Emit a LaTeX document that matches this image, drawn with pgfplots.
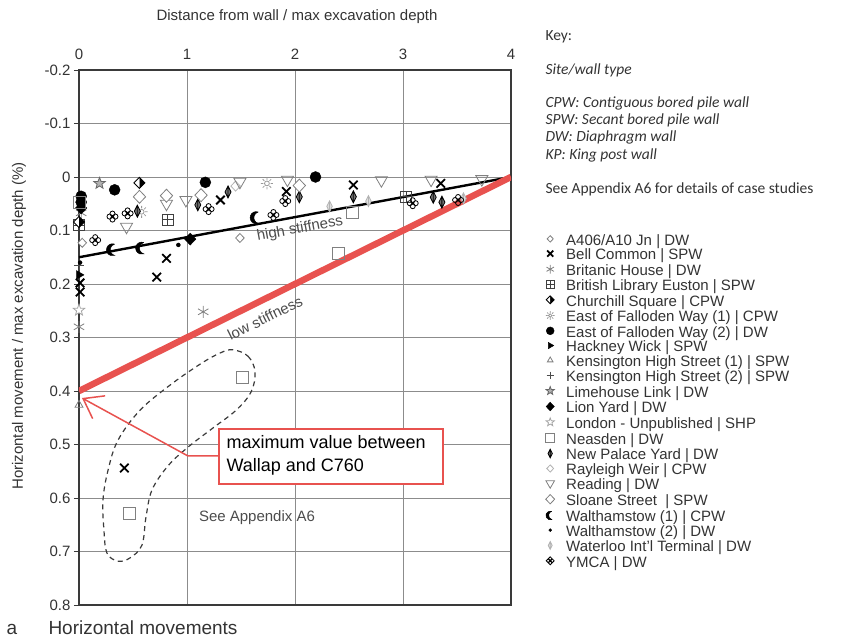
\documentclass[border=0pt]{standalone}
\usepackage{fontspec}
\setmainfont{Liberation Sans}
\newfontfamily\keyfont{Carlito}
\usepackage{pgfplots}
\pgfplotsset{compat=1.18}
\usetikzlibrary{arrows.meta}
\definecolor{txt}{HTML}{333333}
\definecolor{redl}{HTML}{E8524F}
\definecolor{gridc}{HTML}{8C8C8C}
\definecolor{axc}{HTML}{3A3A3A}
\newcommand\fs[2]{\fontsize{#1bp}{#2bp}\selectfont}

\pgfdeclareplotmark{sqgrid}{%
  \pgfpathrectangle{\pgfqpoint{-\pgfplotmarksize}{-\pgfplotmarksize}}{\pgfqpoint{2\pgfplotmarksize}{2\pgfplotmarksize}}%
  \pgfpathmoveto{\pgfqpoint{-\pgfplotmarksize}{0pt}}\pgfpathlineto{\pgfqpoint{\pgfplotmarksize}{0pt}}%
  \pgfpathmoveto{\pgfqpoint{0pt}{-\pgfplotmarksize}}\pgfpathlineto{\pgfqpoint{0pt}{\pgfplotmarksize}}%
  \pgfusepathqstroke}
\pgfdeclareplotmark{sun}{%
  \pgfpathcircle{\pgfpointorigin}{0.4\pgfplotmarksize}%
  \pgfpathmoveto{\pgfpointpolar{0}{0.6\pgfplotmarksize}}\pgfpathlineto{\pgfpointpolar{0}{\pgfplotmarksize}}%
  \pgfpathmoveto{\pgfpointpolar{45}{0.6\pgfplotmarksize}}\pgfpathlineto{\pgfpointpolar{45}{\pgfplotmarksize}}%
  \pgfpathmoveto{\pgfpointpolar{90}{0.6\pgfplotmarksize}}\pgfpathlineto{\pgfpointpolar{90}{\pgfplotmarksize}}%
  \pgfpathmoveto{\pgfpointpolar{135}{0.6\pgfplotmarksize}}\pgfpathlineto{\pgfpointpolar{135}{\pgfplotmarksize}}%
  \pgfpathmoveto{\pgfpointpolar{180}{0.6\pgfplotmarksize}}\pgfpathlineto{\pgfpointpolar{180}{\pgfplotmarksize}}%
  \pgfpathmoveto{\pgfpointpolar{225}{0.6\pgfplotmarksize}}\pgfpathlineto{\pgfpointpolar{225}{\pgfplotmarksize}}%
  \pgfpathmoveto{\pgfpointpolar{270}{0.6\pgfplotmarksize}}\pgfpathlineto{\pgfpointpolar{270}{\pgfplotmarksize}}%
  \pgfpathmoveto{\pgfpointpolar{315}{0.6\pgfplotmarksize}}\pgfpathlineto{\pgfpointpolar{315}{\pgfplotmarksize}}%
  \pgfusepathqstroke}
\pgfdeclareplotmark{crescent}{%
  \pgfpathmoveto{\pgfpointpolar{70}{\pgfplotmarksize}}%
  \pgfpatharc{70}{290}{\pgfplotmarksize}%
  \pgfpatharc{254.7}{105.3}{0.974\pgfplotmarksize}%
  \pgfpathclose
  \pgfusepathqfillstroke}
\pgfdeclareplotmark{quatre}{%
  \pgfpathcircle{\pgfqpoint{0.5\pgfplotmarksize}{0pt}}{0.42\pgfplotmarksize}%
  \pgfpathcircle{\pgfqpoint{-0.5\pgfplotmarksize}{0pt}}{0.42\pgfplotmarksize}%
  \pgfpathcircle{\pgfqpoint{0pt}{0.5\pgfplotmarksize}}{0.42\pgfplotmarksize}%
  \pgfpathcircle{\pgfqpoint{0pt}{-0.5\pgfplotmarksize}}{0.42\pgfplotmarksize}%
  \pgfusepathqstroke
  \pgfpathcircle{\pgfpointorigin}{0.28\pgfplotmarksize}%
  \pgfusepathqfill}
\pgfdeclareplotmark{spindle}{%
  \pgfpathmoveto{\pgfqpoint{0pt}{\pgfplotmarksize}}%
  \pgfpathlineto{\pgfqpoint{0.5\pgfplotmarksize}{0pt}}%
  \pgfpathlineto{\pgfqpoint{0pt}{-\pgfplotmarksize}}%
  \pgfpathlineto{\pgfqpoint{-0.5\pgfplotmarksize}{0pt}}%
  \pgfpathclose
  \pgfpathmoveto{\pgfqpoint{0pt}{\pgfplotmarksize}}\pgfpathlineto{\pgfqpoint{0pt}{-\pgfplotmarksize}}%
  \pgfusepathqfillstroke}
\pgfdeclareplotmark{wdiamond}{%
  \pgfpathmoveto{\pgfqpoint{0pt}{\pgfplotmarksize}}%
  \pgfpathlineto{\pgfqpoint{0.95\pgfplotmarksize}{0pt}}%
  \pgfpathlineto{\pgfqpoint{0pt}{-\pgfplotmarksize}}%
  \pgfpathlineto{\pgfqpoint{-0.95\pgfplotmarksize}{0pt}}%
  \pgfpathclose
  \pgfusepathqfillstroke}
\pgfdeclareplotmark{ostar}{%
  \pgfpathmoveto{\pgfpointpolar{90}{\pgfplotmarksize}}%
  \pgfpathlineto{\pgfpointpolar{126}{0.42\pgfplotmarksize}}%
  \pgfpathlineto{\pgfpointpolar{162}{\pgfplotmarksize}}%
  \pgfpathlineto{\pgfpointpolar{198}{0.42\pgfplotmarksize}}%
  \pgfpathlineto{\pgfpointpolar{234}{\pgfplotmarksize}}%
  \pgfpathlineto{\pgfpointpolar{270}{0.42\pgfplotmarksize}}%
  \pgfpathlineto{\pgfpointpolar{306}{\pgfplotmarksize}}%
  \pgfpathlineto{\pgfpointpolar{342}{0.42\pgfplotmarksize}}%
  \pgfpathlineto{\pgfpointpolar{18}{\pgfplotmarksize}}%
  \pgfpathlineto{\pgfpointpolar{54}{0.42\pgfplotmarksize}}%
  \pgfpathclose
  \pgfusepathqfillstroke}

\begin{document}
\begin{tikzpicture}[x=1bp,y=1bp]
\useasboundingbox (-79,-35) rectangle (776,605);
\begin{axis}[
  at={(0,0)}, anchor=south west, scale only axis,
  width=432bp, height=535bp,
  xmin=0, xmax=4, ymin=-0.2, ymax=0.8, y dir=reverse,
  xtick={0,1,2,3,4}, xticklabels={0,1,2,3,4},
  xticklabel pos=top,
  xticklabel style={yshift=1.5bp},
  ytick={-0.2,-0.1,0,0.1,0.2,0.3,0.4,0.5,0.6,0.7,0.8},
  yticklabels={-0.2,-0.1,0,0.1,0.2,0.3,0.4,0.5,0.6,0.7,0.8},
  ytick pos=left, tick align=outside, major tick length=5bp,
  xtick style={draw=none},
  tick style={axc, line width=0.9bp},
  grid=major, major grid style={gridc, line width=0.9bp},
  axis line style={axc, line width=2bp},
  ticklabel style={font=\fs{15}{18}, text=txt},
  legend style={at={(axis description cs:1.0787,0.691)}, anchor=north west,
    draw=none, fill=none, font=\fs{15}{16}, text=txt, inner sep=0pt,
    row sep=0pt, nodes={inner sep=0pt, outer sep=0pt, text height=9.7bp, text depth=5bp},
    /tikz/every odd column/.style={column sep=11bp}},
  legend cell align=left,
  legend image code/.code={\path[draw=none,fill=none] (0bp,-3bp) rectangle (10bp,3bp);
     \draw[#1, every mark/.append style={scale=0.72}] plot coordinates {(5bp,4bp)};},
]
% 1 A406/A10 Jn
\addplot[only marks, mark=wdiamond, mark size=4.5bp, mark options={draw=gray, fill=white, line width=0.8bp}]
  coordinates {(0.03,0.123) (1.49,0.114)};
\addlegendentry{A406/A10 Jn | DW}
% 2 Bell Common
\addplot[only marks, mark=x, mark size=6bp, mark options={draw=black, line width=1.8bp}]
  coordinates {(0.81,0.152) (0.72,0.187) (0.01,0.198) (0.01,0.215) (1.31,0.043) (1.92,0.027) (2.54,0.015) (3.35,0.012) (0.42,0.544)};
\addlegendentry{Bell Common | SPW}
% 3 Britanic House
\addplot[only marks, mark=asterisk, mark size=6bp, mark options={draw=gray, line width=0.8bp}]
  coordinates {(1.15,0.252) (0.0,0.28) (0.02,0.067)};
\addlegendentry{Britanic House | DW}
% 4 British Library Euston
\addplot[only marks, mark=sqgrid, mark size=5.5bp, mark options={draw=black!75, line width=0.8bp}]
  coordinates {(0.82,0.080) (0.0,0.09) (3.03,0.037)};
\addlegendentry{British Library Euston | SPW}
% 5 Churchill Square
\addplot[only marks, mark=halfsquare right*, mark size=5.5bp, mark options={draw=black, fill=black, line width=0.9bp}]
  coordinates {(0.56,0.011) (0.0,0.084)};
\addlegendentry{Churchill Square | CPW}
% 6 East of Falloden Way (1)
\addplot[only marks, mark=sun, mark size=6bp, mark options={draw=gray!80, line width=0.8bp}]
  coordinates {(1.74,0.012) (0.58,0.065)};
\addlegendentry{East of Falloden Way (1) | CPW}
% 7 East of Falloden Way (2)
\addplot[only marks, mark=*, mark size=5.5bp, mark options={draw=black, fill=black}]
  coordinates {(0.33,0.024) (1.17,0.010) (2.19,0.0) (0.02,0.036) (0.02,0.047)};
\addlegendentry{East of Falloden Way (2) | DW}
% 8 Hackney Wick
\addplot[only marks, mark=triangle*, mark size=5bp, mark options={draw=black, fill=black, rotate=-90}]
  coordinates {(0.0,0.183)};
\addlegendentry{Hackney Wick | SPW}
% 9 Kensington High Street (1)
\addplot[only marks, mark=triangle, mark size=4.5bp, mark options={draw=gray, line width=0.8bp}]
  coordinates {(0.0,0.426)};
\addlegendentry{Kensington High Street (1) | SPW}
% 10 Kensington High Street (2)
\addplot[only marks, mark=+, mark size=5bp, mark options={draw=black!70, line width=0.9bp}]
  coordinates {(0.0,0.165)};
\addlegendentry{Kensington High Street (2) | SPW}
% 11 Limehouse Link
\addplot[only marks, mark=ostar, mark size=6bp, mark options={draw=black!60, fill=gray!60, line width=0.8bp}]
  coordinates {(0.19,0.012)};
\addlegendentry{Limehouse Link | DW}
% 12 Lion Yard
\addplot[only marks, mark=wdiamond, mark size=6bp, mark options={draw=black, fill=black}]
  coordinates {(1.03,0.116) (0.02,0.058)};
\addlegendentry{Lion Yard | DW}
% 13 London - Unpublished
\addplot[only marks, mark=ostar, mark size=6bp, mark options={draw=gray!70, fill=white, line width=0.8bp}]
  coordinates {(0.0,0.249)};
\addlegendentry{London - Unpublished | SHP}
% 14 Neasden
\addplot[only marks, mark=square, mark size=6bp, mark options={draw=gray, line width=0.9bp}]
  coordinates {(2.40,0.142) (2.53,0.067) (1.51,0.374) (0.47,0.628) (0.0,0.048)};
\addlegendentry{Neasden | DW}
% 15 New Palace Yard
\addplot[only marks, mark=spindle, mark size=6bp, mark options={draw=black, fill=black!55, line width=0.8bp}]
  coordinates {(2.54,0.037) (3.28,0.038) (3.36,0.047) (2.04,0.037) (1.10,0.052) (1.38,0.028) (0.54,0.064)};
\addlegendentry{New Palace Yard | DW}
% 16 Rayleigh Weir
\addplot[only marks, mark=wdiamond, mark size=5bp, mark options={draw=gray!60, fill=white, line width=0.8bp}]
  coordinates {(1.45,0.017)};
\addlegendentry{Rayleigh Weir | CPW}
% 17 Reading
\addplot[only marks, mark=triangle, mark size=7bp, mark options={draw=gray, line width=0.8bp, rotate=180}]
  coordinates {(0.44,0.093) (0.81,0.05) (0.99,0.043) (1.49,0.009) (1.93,0.005) (2.80,0.006) (3.26,0.005) (3.73,0.004)};
\addlegendentry{Reading | DW}
% 18 Sloane Street
\addplot[only marks, mark=wdiamond, mark size=6.5bp, mark options={draw=gray, fill=white, line width=0.8bp}]
  coordinates {(0.56,0.037) (0.81,0.035) (1.13,0.034) (2.04,0.016)};
\addlegendentry{Sloane Street \ | SPW}
% 19 Walthamstow (1)
\addplot[only marks, mark=crescent, mark size=6bp, mark options={draw=black, fill=black, line width=0.5bp}]
  coordinates {(0.31,0.136) (0.58,0.133) (1.64,0.076)};
\addlegendentry{Walthamstow (1) | CPW}
% 20 Walthamstow (2)
\addplot[only marks, mark=*, mark size=2bp, mark options={draw=black, fill=black}]
  coordinates {(0.92,0.127) (0.01,0.16)};
\addlegendentry{Walthamstow (2) | DW}
% 21 Waterloo Int'l Terminal
\addplot[only marks, mark=spindle, mark size=5.5bp, mark options={draw=gray!60, fill=gray!25, line width=0.8bp}]
  coordinates {(2.32,0.055) (2.68,0.045) (3.56,0.040)};
\addlegendentry{Waterloo Int'l Terminal | DW}
% 22 YMCA
\addplot[only marks, mark=quatre, mark size=6bp, mark options={draw=black, fill=black, line width=0.8bp}]
  coordinates {(0.31,0.074) (0.45,0.068) (0.15,0.118) (1.20,0.060) (1.91,0.045) (1.80,0.071) (3.09,0.049) (3.51,0.043)};
\addlegendentry{YMCA | DW}
% stiffness lines
\addplot[forget plot, black, line width=2.4bp] coordinates {(0,0.15) (4,0)};
\addplot[forget plot, redl, line width=6.5bp] coordinates {(0,0.4) (4,0)};
% dashed enclosure
\draw[axc, line width=1.2bp, dash pattern=on 5bp off 4bp] plot[smooth cycle, tension=0.6] coordinates {
 (1.426,0.323) (1.565,0.335) (1.630,0.364) (1.593,0.402) (1.454,0.436) (1.241,0.469)
 (1.009,0.505) (0.824,0.540) (0.676,0.585) (0.620,0.636) (0.583,0.688) (0.472,0.712)
 (0.361,0.718) (0.259,0.703) (0.231,0.660) (0.222,0.604) (0.269,0.548) (0.361,0.492)
 (0.565,0.436) (0.843,0.389) (1.120,0.350) (1.306,0.329)};
\end{axis}
\begin{scope}[shift={(-79,605)}, yscale=-1]
  \node[font=\fs{15}{18}, text=txt] at (297,17) {Distance from wall / max excavation depth};
  \node[font=\fs{15}{18}, text=txt, rotate=90] at (19,326) {Horizontal movement / max excavation depth (\%)};
  \node[font=\fs{15}{18}, text=black!70, rotate=10.5, inner sep=1bp] at (300,229) {high stiffness};
  \node[font=\fs{15}{18}, text=black!70, rotate=26.3, inner sep=1bp] at (265,318) {low stiffness};
  \node[font=\fs{15}{18}, text=black!70] at (257,518) {See Appendix A6};
  % red annotation
  \draw[redl, line width=1.5bp, -{Straight Barb[length=18bp, width=26bp]}] (220,456) -- (188,456) -- (82,398);
  \draw[redl, line width=1.8bp, fill=white] (219,429) rectangle (443,484);
  \node[anchor=base west, font=\fs{18}{22}, text=black] at (223,449) {maximum value between};
  \node[anchor=base west, font=\fs{18}{22}, text=black] at (223,472) {Wallap and C760};
  % key
  \node[anchor=west, font=\keyfont\fs{15.5}{18}, text=txt] at (542,37) {Key:};
  \node[anchor=west, font=\keyfont\itshape\fs{15.5}{18}, text=txt] at (542,70) {Site/wall type};
  \node[anchor=west, font=\keyfont\itshape\fs{15.5}{18}, text=txt] at (542,103) {CPW: Contiguous bored pile wall};
  \node[anchor=west, font=\keyfont\itshape\fs{15.5}{18}, text=txt] at (542,120) {SPW: Secant bored pile wall};
  \node[anchor=west, font=\keyfont\itshape\fs{15.5}{18}, text=txt] at (542,137) {DW: Diaphragm wall};
  \node[anchor=west, font=\keyfont\itshape\fs{15.5}{18}, text=txt] at (542,155) {KP: King post wall};
  \node[anchor=west, font=\keyfont\fs{15.5}{18}, text=txt] at (542,189) {See Appendix A6 for details of case studies};
  % caption
  \node[anchor=base west, font=\fs{19}{22}, text=txt] at (3,635) {a};
  \node[anchor=base west, font=\fs{19}{22}, text=txt] at (45,635) {Horizontal movements};
\end{scope}
\end{tikzpicture}
\end{document}
